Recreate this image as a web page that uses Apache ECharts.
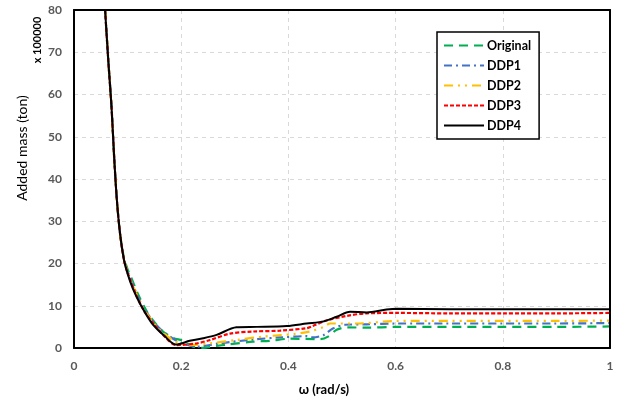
<!DOCTYPE html>
<html><head><meta charset="utf-8">
<script src="https://cdn.jsdelivr.net/npm/echarts@6/dist/echarts.min.js"></script>
<style>html,body{margin:0;padding:0;background:#fff}#c{width:617px;height:401px}</style>
</head><body><div id="c"></div>
<script>
const xTicks = [0, 0.2, 0.4, 0.6, 0.8, 1];
const yTicks = [0, 10, 20, 30, 40, 50, 60, 70, 80];
const seriesNames = ['Original', 'DDP1', 'DDP2', 'DDP3', 'DDP4'];

const original = [[0.058,80],[0.064,68],[0.070,57],[0.075,45],[0.080,35],[0.086,27],[0.093,21.5],[0.1,18.6],[0.106,16.9],[0.12,12.6],[0.136,8.6],[0.152,5.8],[0.166,3.9],[0.185,2.4],[0.204,1.7],[0.22,0.4],[0.24,0.05],[0.266,0.5],[0.285,0.8],[0.334,1.5],[0.366,1.7],[0.403,2.2],[0.459,2.1],[0.474,2.7],[0.49,4.3],[0.509,4.9],[0.546,4.8],[0.602,5.0],[0.7,5.0],[0.8,5.0],[0.9,5.0],[1,5.1]];
const ddp1 = [[0.058,80],[0.064,68],[0.070,57],[0.075,45],[0.080,35],[0.086,27],[0.093,21.2],[0.1,18.2],[0.115,13.4],[0.13,9.4],[0.16,4.6],[0.185,2.2],[0.205,1.0],[0.229,0.3],[0.272,1.1],[0.334,2.0],[0.384,2.5],[0.434,2.8],[0.446,2.5],[0.466,3.1],[0.483,4.6],[0.506,5.5],[0.546,5.6],[0.602,5.8],[0.7,5.8],[0.8,5.8],[0.9,5.8],[1,5.9]];
const ddp2 = [[0.058,80],[0.064,68],[0.070,57],[0.075,45],[0.080,35],[0.086,27],[0.093,21.1],[0.1,18],[0.115,13.2],[0.13,9.2],[0.16,4.3],[0.19,1.5],[0.216,0.7],[0.254,1.1],[0.303,1.9],[0.353,2.7],[0.41,3.3],[0.44,3.9],[0.466,5.0],[0.478,5.8],[0.527,5.8],[0.602,6.4],[0.7,6.4],[0.8,6.4],[0.9,6.4],[1,6.5]];
const ddp3 = [[0.058,80],[0.064,68],[0.070,57],[0.075,45],[0.080,35],[0.086,27],[0.093,21],[0.1,17.8],[0.115,12.9],[0.13,8.9],[0.15,5.5],[0.17,2.6],[0.19,0.7],[0.229,1.1],[0.254,1.9],[0.291,3.4],[0.334,3.9],[0.384,4.1],[0.434,4.7],[0.445,5.2],[0.471,6.5],[0.509,7.6],[0.546,8.2],[0.602,8.3],[0.7,8.2],[0.8,8.2],[0.9,8.2],[1,8.3]];
const ddp4 = [[0.058,80],[0.064,68],[0.070,57],[0.075,45],[0.080,35],[0.086,27],[0.093,21],[0.1,17.6],[0.11,14],[0.124,10.3],[0.145,5.9],[0.17,2.7],[0.19,0.8],[0.216,1.7],[0.241,2.3],[0.266,3.1],[0.303,4.9],[0.341,5.0],[0.397,5.2],[0.434,5.8],[0.466,6.3],[0.49,7.4],[0.515,8.6],[0.546,8.4],[0.583,9.1],[0.602,9.3],[0.7,9.2],[0.8,9.2],[0.9,9.2],[1,9.2]];

const dataSets = [original, ddp1, ddp2, ddp3, ddp4];
const colors = ['#00b050', '#4472c4', '#ffc000', '#ff0000', '#000000'];
const dashes = [[9,6], [8,4,2,4], [9,5,2,5,2,5], [4,2], 'solid'];

const FONT = 'Lato, "Open Sans", sans-serif';
const chart = echarts.init(document.getElementById('c'), null, {renderer: 'canvas'});
chart.setOption({
  animation: false,
  backgroundColor: '#fff',
  grid: {left: 74, right: 7, top: 10, bottom: 53},
  xAxis: [{
    type: 'value', min: 0, max: 1, interval: 0.2,
    axisLine: {show: true, lineStyle: {color: '#000', width: 2}},
    axisTick: {show: false},
    axisLabel: {color: '#595959', fontWeight: 'bold', fontSize: 12, fontFamily: FONT, margin: 12,
      formatter: v => { const t = xTicks.find(k => Math.abs(k - v) < 1e-9); return t === undefined ? '' : String(t); }},
    splitLine: {show: true, lineStyle: {color: '#d9d9d9', type: [4,4], width: 1}}
  }, {
    type: 'value', min: 0, max: 1, position: 'top', z: 10,
    axisLine: {show: true, onZero: false, lineStyle: {color: '#000', width: 2}},
    axisTick: {show: false}, axisLabel: {show: false}, splitLine: {show: false}
  }],
  yAxis: [{
    type: 'value', min: 0, max: 80, interval: 10,
    axisLine: {show: true, lineStyle: {color: '#000', width: 2}},
    axisTick: {show: false},
    axisLabel: {color: '#595959', fontWeight: 'bold', fontSize: 12, fontFamily: FONT, margin: 12,
      formatter: v => yTicks.includes(v) ? String(v) : ''},
    splitLine: {show: true, lineStyle: {color: '#d9d9d9', type: [4,4], width: 1}}
  }, {
    type: 'value', min: 0, max: 80, position: 'right', z: 10,
    axisLine: {show: true, onZero: false, lineStyle: {color: '#000', width: 2}},
    axisTick: {show: false}, axisLabel: {show: false}, splitLine: {show: false}
  }],
  legend: {
    orient: 'vertical', left: 437, top: 32, width: 98,
    backgroundColor: '#fff', borderColor: '#000', borderWidth: 1.5,
    padding: [7, 8, 7, 6], itemGap: 7, itemWidth: 40, itemHeight: 10,
    itemStyle: {opacity: 0},
    textStyle: {color: '#000', fontWeight: 'bold', fontSize: 12.5, fontFamily: FONT, padding: [0,0,0,-2]},
    data: seriesNames
  },
  graphic: [
    {type: 'text', rotation: Math.PI/2, x: 22, y: 148,
     style: {text: 'Added mass (ton)', font: '14px ' + FONT, fill: '#000', textAlign: 'center', textVerticalAlign: 'middle'}},
    {type: 'text', rotation: Math.PI/2, x: 37, y: 40,
     style: {text: 'x 100000', font: 'bold 11px ' + FONT, fill: '#000', textAlign: 'center', textVerticalAlign: 'middle'}},
    {type: 'text', x: 324, y: 390,
     style: {text: 'ω (rad/s)', font: 'bold 13px ' + FONT, fill: '#000', textAlign: 'center', textVerticalAlign: 'middle'}}
  ],
  series: seriesNames.map((n, i) => ({
    name: n, type: 'line', data: dataSets[i], smooth: 0.3, symbol: 'none',
    z: 2 + i,
    lineStyle: {color: colors[i], width: i === 4 ? 2 : 2.2, type: dashes[i]},
    itemStyle: {color: colors[i]}
  }))
});
</script></body></html>
